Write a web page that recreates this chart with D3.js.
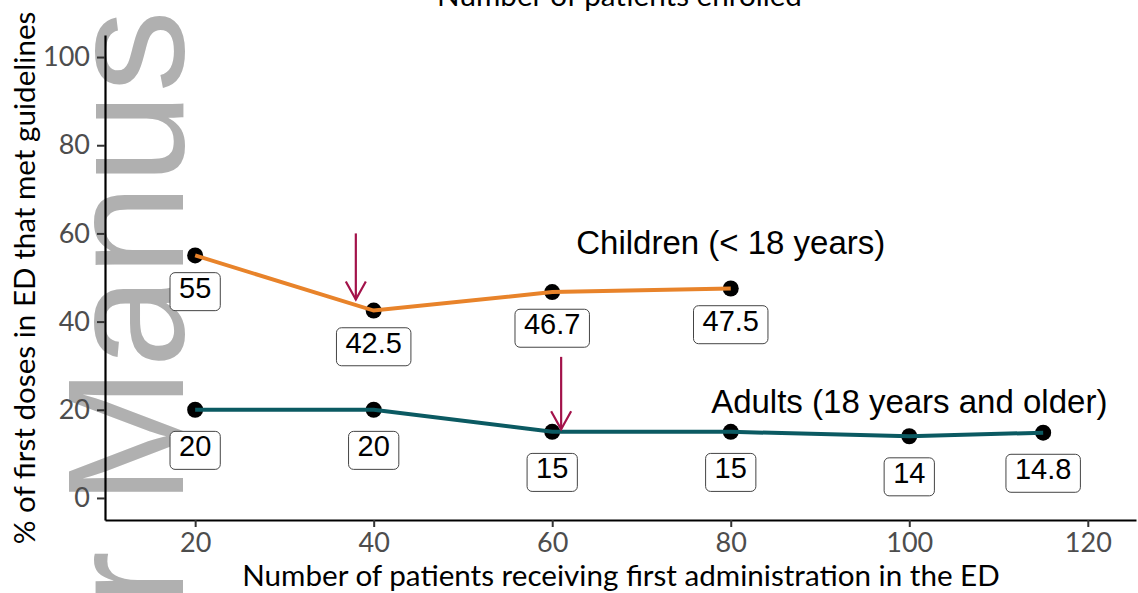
<!DOCTYPE html>
<html>
<head>
<meta charset="utf-8">
<script src="https://cdn.jsdelivr.net/npm/d3@7"></script>
<style>
  html, body { margin: 0; padding: 0; background: #fff; }
  svg { display: block; }
</style>
</head>
<body>
<svg id="chart" width="1138" height="593"></svg>
<script>
// ---------------- data ----------------
const childrenX = [20, 40, 60, 80];
const childrenValues = [55, 42.5, 46.7, 47.5];
const adultsX = [20, 40, 60, 80, 100, 115];
const adultsValues = [20, 20, 15, 15, 14, 14.8];
const xTicks = [20, 40, 60, 80, 100, 120];
const yTicks = [0, 20, 40, 60, 80, 100];
const seriesNames = ["Children (< 18 years)", "Adults (18 years and older)"];
const seriesNameX = [80, 100];
const seriesNameY = [58, 21.8];
const arrowX = [38, 61];
const arrowFrom = [60, 32];
const arrowTo = [45, 15.6];
const titleTop = "Number of patients enrolled";
const xTitle = "Number of patients receiving first administration in the ED";
const yTitle = "% of first doses in ED that met guidelines";
const watermark = "r Manus";

// ---------------- layout ----------------
const svg = d3.select("#chart");
const plotLeft = 105, plotRight = 1136, plotTop = 35, plotBottom = 520;
const x = d3.scaleLinear().domain([9.9, 125.4]).range([plotLeft, plotRight]);
const y = d3.scaleLinear().domain([-5, 105]).range([plotBottom, plotTop]);

const calibriLike = "Lato, 'Open Sans', sans-serif";
const arialLike = "'Liberation Sans', Arial, sans-serif";

function fitWidth(sel, target) {
  const len = sel.node().getComputedTextLength();
  const fs = parseFloat(sel.attr("font-size"));
  sel.attr("font-size", fs * target / len);
}

// watermark (behind everything)
svg.append("text")
  .attr("transform", "translate(183,606) rotate(-90)")
  .attr("font-family", arialLike)
  .attr("font-size", 165)
  .attr("fill", "#b0b0b0")
  .text(watermark);

// axes
const yAxis = svg.append("g")
  .attr("transform", `translate(${plotLeft},0)`)
  .call(d3.axisLeft(y).tickValues(yTicks).tickSize(8).tickPadding(7).tickSizeOuter(0));
const xAxis = svg.append("g")
  .attr("transform", `translate(0,${plotBottom})`)
  .call(d3.axisBottom(x).tickValues(xTicks).tickSize(7).tickPadding(6).tickSizeOuter(0));
[yAxis, xAxis].forEach(g => {
  g.select(".domain").attr("stroke", "#000").attr("stroke-width", 2.2);
  g.selectAll(".tick line").attr("stroke", "#333").attr("stroke-width", 2);
  g.selectAll(".tick text")
    .attr("font-family", calibriLike)
    .attr("font-size", 27)
    .attr("fill", "#4d4d4d");
});

// titles
const tTop = svg.append("text")
  .attr("x", 619.5).attr("y", 6)
  .attr("text-anchor", "middle")
  .attr("font-family", calibriLike).attr("font-size", 28)
  .attr("fill", "#000").text(titleTop);
fitWidth(tTop, 365);

const tX = svg.append("text")
  .attr("x", 621).attr("y", 586)
  .attr("text-anchor", "middle")
  .attr("font-family", calibriLike).attr("font-size", 28)
  .attr("fill", "#000").text(xTitle);
fitWidth(tX, 758);

const tY = svg.append("text")
  .attr("transform", "translate(35,278) rotate(-90)")
  .attr("text-anchor", "middle")
  .attr("font-family", calibriLike).attr("font-size", 28)
  .attr("fill", "#000").text(yTitle);
fitWidth(tY, 533);

// series
const series = [
  { xs: childrenX, vs: childrenValues, color: "#e8832a", nudge: 7.3 },
  { xs: adultsX, vs: adultsValues, color: "#0b5a62", nudge: 8.3 }
];

series.forEach(s => {
  const pts = s.xs.map((d, i) => [d, s.vs[i]]);
  svg.append("g").selectAll("circle").data(pts).join("circle")
    .attr("cx", d => x(d[0])).attr("cy", d => y(d[1]))
    .attr("r", 8).attr("fill", "#000");
  svg.append("path").datum(pts)
    .attr("fill", "none").attr("stroke", s.color).attr("stroke-width", 4)
    .attr("d", d3.line().x(d => x(d[0])).y(d => y(d[1])));
});

// value labels
series.forEach(s => {
  s.xs.forEach((xv, i) => {
    const g = svg.append("g");
    const t = g.append("text")
      .attr("x", x(xv)).attr("y", y(s.vs[i] - s.nudge))
      .attr("text-anchor", "middle").attr("dominant-baseline", "central")
      .attr("font-family", arialLike).attr("font-size", 29)
      .attr("fill", "#000").text(String(s.vs[i]));
    const bb = t.node().getBBox();
    g.insert("rect", "text")
      .attr("x", bb.x - 9).attr("y", bb.y + 1)
      .attr("width", bb.width + 18).attr("height", bb.height + 6)
      .attr("rx", 5).attr("fill", "#fff")
      .attr("stroke", "#444").attr("stroke-width", 1);
  });
});

// series names
seriesNames.forEach((n, i) => {
  svg.append("text")
    .attr("x", x(seriesNameX[i])).attr("y", y(seriesNameY[i]))
    .attr("text-anchor", "middle").attr("dominant-baseline", "central")
    .attr("font-family", arialLike).attr("font-size", 33)
    .attr("fill", "#000").text(n);
});

// arrows
arrowX.forEach((ax, i) => {
  const px = x(ax), y1 = y(arrowFrom[i]), y2 = y(arrowTo[i]);
  const g = svg.append("g").attr("stroke", "#a3124a").attr("stroke-width", 2.2).attr("fill", "none");
  g.append("line").attr("x1", px).attr("x2", px).attr("y1", y1).attr("y2", y2);
  g.append("path").attr("d", `M${px - 10},${y2 - 18} L${px},${y2} L${px + 10},${y2 - 18}`);
});
</script>
</body>
</html>
